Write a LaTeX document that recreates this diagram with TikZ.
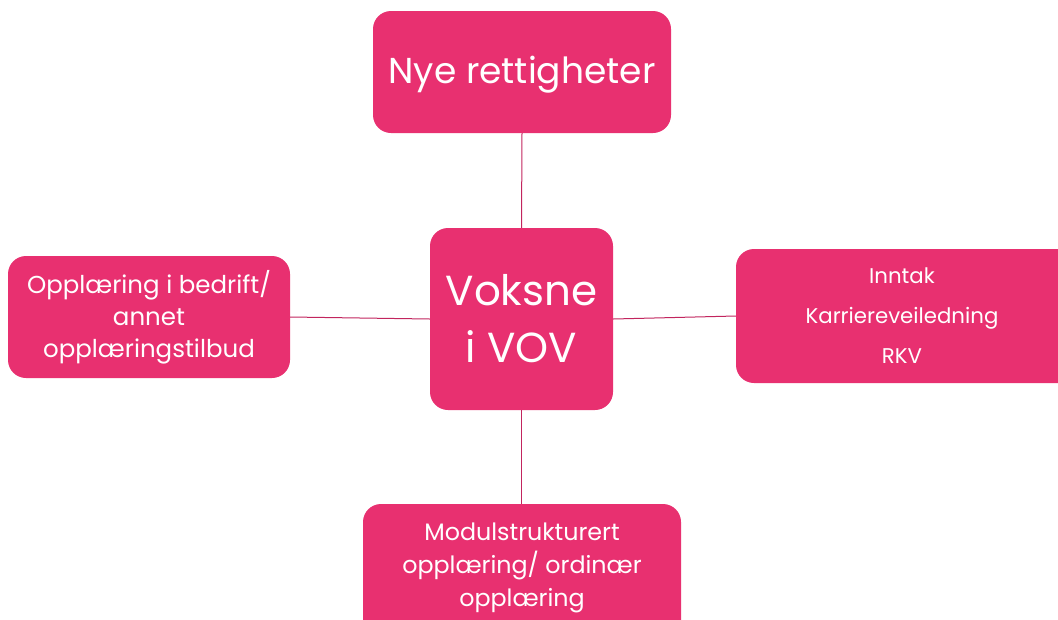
\documentclass[tikz,border=0pt]{standalone}
\usepackage{fontspec}
\setmainfont{Poppins}
\definecolor{boxpink}{HTML}{E83070}
\definecolor{linepink}{HTML}{C2255E}
\begin{document}
\begin{tikzpicture}[x=1pt,y=-1pt,
  box/.style={fill=boxpink,draw=none,rounded corners=18pt,text=white,align=center,inner sep=0pt},
  conn/.style={draw=linepink,line width=1pt}]
\useasboundingbox (0,0) rectangle (1058,619);
\clip (0,0) rectangle (1058,619);
\node[box,minimum width=298pt,minimum height=122pt] (top) at (522,72) {};
\node[text=white,font=\fontsize{36}{42}\selectfont] (toptext) at (522,75) {Nye rettigheter};
\node[box,minimum width=183pt,minimum height=182pt,font=\fontsize{42}{57}\selectfont] (center) at (521.5,319) {Voksne\\i VOV};
\node[box,minimum width=282pt,minimum height=122pt,font=\fontsize{24.5}{32}\selectfont] (left) at (149,317) {Opplæring i bedrift/\\annet\\opplæringstilbud};
\node[box,minimum width=340pt,minimum height=134pt] (rightbox) at (906,316) {};
\node[text=white,align=center,font=\fontsize{21.3}{40}\selectfont] (righttext) at (902,316) {Inntak\\Karriereveiledning\\RKV};
\node[box,minimum width=318pt,minimum height=140pt] (bottom) at (522,574) {};
\node[text=white,align=center,font=\fontsize{23.8}{33}\selectfont] (bottomtext) at (522,568) {Modulstrukturert\\opplæring/ ordinær\\opplæring};
\draw[conn] (top.south) -- (center.north);
\draw[conn] (center.south) -- (center.south |- bottom.north);
\draw[conn] (left.east) -- (center.west);
\draw[conn] (center.east) -- (rightbox.west);
\end{tikzpicture}
\end{document}
